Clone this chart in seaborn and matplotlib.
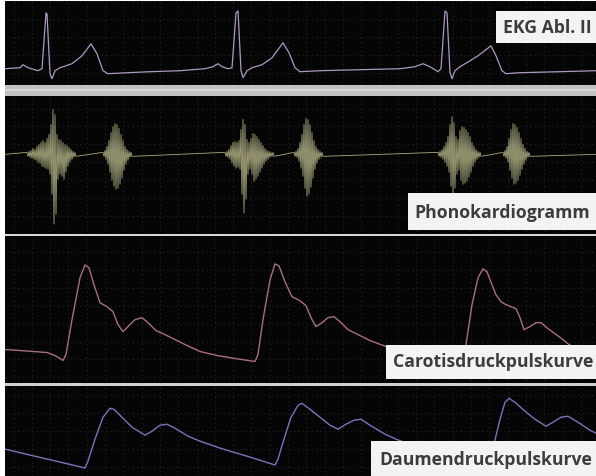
import numpy as np
import pandas as pd
import matplotlib
matplotlib.use("Agg")
import matplotlib.pyplot as plt
import seaborn as sns
from matplotlib.patches import Rectangle

# ---------------- data (x = time in px, y = level in px) -------------
ekg_t = [5, 20, 23, 28, 38, 42, 46, 47, 50, 52, 55, 60, 72, 82, 91, 97, 103, 108, 128, 150,
         180, 205, 213, 218, 222, 228, 232, 236, 238, 241, 243, 247, 252, 262, 272, 283, 289,
         295, 300, 320, 360, 400, 415, 423, 430, 438, 441, 445, 447, 450, 452, 455, 460, 470,
         478, 491, 496, 502, 506, 520, 560, 596]
ekg_v = [68, 67, 64, 67, 70, 68, 12, 13, 73, 78, 70, 67, 63, 55, 43, 53, 70, 73, 72, 71,
         70, 68, 66, 63, 66, 68, 67, 12, 10, 70, 77, 70, 67, 64, 57, 42, 52,
         67, 71, 70, 69, 68, 66, 63, 66, 71, 68, 10, 12, 72, 78, 70, 66, 60,
         55, 45, 55, 70, 73, 72, 71, 70]

# phonocardiogram bursts: x positions, upward and downward excursion
s1a_x = [27, 29, 31, 33, 35, 37, 39, 41, 43, 45, 47, 49, 51, 53, 55, 57, 59, 61, 63, 65, 67, 69, 71, 73, 75]
s1a_up = [2, 3, 4, 6, 5, 8, 10, 12, 14, 12, 16, 20, 30, 45, 40, 20, 15, 14, 12, 10, 9, 7, 5, 3, 2]
s1a_dn = [2, 3, 4, 5, 6, 8, 9, 12, 13, 14, 15, 20, 40, 70, 60, 25, 20, 22, 25, 18, 12, 8, 5, 3, 2]

s2a_x = [103, 105, 107, 109, 111, 113, 115, 117, 119, 121, 123, 125, 127, 129, 131]
s2a_up = [2, 4, 8, 14, 22, 28, 31, 30, 26, 20, 14, 8, 5, 3, 2]
s2a_dn = [2, 5, 10, 18, 26, 32, 35, 34, 30, 24, 16, 10, 6, 3, 2]

s1b_x = [225, 227, 229, 231, 233, 235, 237, 239, 241, 243, 245, 247, 249, 251, 253, 255, 257, 259, 261, 263, 265, 267, 269, 271, 273]
s1b_up = [2, 3, 5, 9, 12, 13, 12, 14, 25, 35, 30, 15, 12, 16, 21, 20, 18, 15, 12, 9, 6, 4, 3, 2, 2]
s1b_dn = [2, 3, 5, 9, 12, 14, 13, 15, 40, 59, 45, 20, 15, 20, 27, 25, 22, 18, 14, 10, 7, 5, 3, 2, 2]

s2b_x = [294, 296, 298, 300, 302, 304, 306, 308, 310, 312, 314, 316, 318, 320, 322]
s2b_up = [2, 3, 6, 12, 20, 30, 36, 35, 30, 22, 14, 8, 5, 3, 2]
s2b_dn = [2, 3, 7, 14, 22, 34, 42, 40, 33, 24, 15, 9, 5, 3, 2]

s1c_x = [438, 440, 442, 444, 446, 448, 450, 452, 454, 456, 458, 460, 462, 464, 466, 468, 470, 472, 474, 476, 478, 480]
s1c_up = [2, 3, 5, 8, 12, 18, 30, 38, 32, 18, 15, 24, 28, 27, 25, 22, 18, 12, 8, 5, 3, 2]
s1c_dn = [2, 3, 5, 8, 12, 18, 32, 40, 34, 20, 16, 26, 30, 29, 27, 23, 18, 12, 8, 5, 3, 2]

s2c_x = [503, 505, 507, 509, 511, 513, 515, 517, 519, 521, 523, 525, 527, 529]
s2c_up = [2, 4, 8, 16, 25, 31, 30, 27, 22, 16, 10, 6, 3, 2]
s2c_dn = [2, 4, 8, 16, 24, 30, 29, 26, 21, 15, 10, 6, 3, 2]

carotid_t = [5, 20, 47, 55, 63, 66, 72, 80, 85, 89, 94, 100, 107, 113, 118, 123, 128, 135, 142, 148,
             156, 165, 173, 185, 200, 217, 235, 255, 258, 263, 270, 275, 279, 285, 292, 300, 306,
             311, 316, 322, 328, 334, 340, 348, 356, 370, 386, 400, 420, 440, 460, 463, 466, 472,
             478, 483, 487, 492, 496, 501, 506, 516, 520, 524, 530, 536, 541, 548, 559, 569, 578, 596]
carotid_v = [350, 351, 353, 356, 361, 355, 320, 278, 265, 268, 285, 303, 307, 312, 325, 332, 327, 320, 318, 323,
             331, 335, 339, 345, 352, 356, 359, 362, 355, 320, 280, 264, 266, 282, 297, 301, 306,
             318, 327, 323, 318, 317, 322, 330, 334, 341, 347, 352, 357, 360, 362, 357, 345, 305,
             278, 269, 272, 285, 295, 302, 305, 309, 318, 330, 327, 323, 323, 329, 337, 345, 350, 356]

thumb_t = [5, 30, 60, 85, 88, 95, 103, 110, 114, 122, 132, 145, 152, 160, 167, 175, 188, 200, 220, 250,
           275, 278, 284, 291, 298, 302, 310, 320, 330, 338, 346, 354, 361, 370, 385, 396, 420, 450,
           480, 490, 494, 500, 505, 509, 515, 525, 535, 546, 553, 561, 568, 578, 590, 596]
thumb_v = [450, 456, 463, 469, 462, 440, 418, 409, 410, 418, 428, 436, 432, 426, 425, 429, 437, 442, 449, 458,
           466, 460, 440, 418, 406, 404, 410, 418, 426, 430, 425, 421, 420, 426, 435, 440, 449, 458,
           465, 467, 445, 420, 403, 399, 403, 412, 420, 427, 423, 418, 417, 423, 431, 434]

labels = ["EKG Abl. II", "Phonokardiogramm", "Carotisdruckpulskurve", "Daumendruckpulskurve"]

# ---------------- styling ----------------
W, H = 596, 477
sns.set_theme(style="white")
plt.rcParams['font.family'] = ['Open Sans', 'DejaVu Sans']

fig = plt.figure(figsize=(W / 100, H / 100), dpi=100, facecolor='white')
ax = fig.add_axes([5 / W, 0, (W - 5) / W, (H - 2) / H])
ax.set_facecolor('#050505')
ax.set_xlim(5, W)
ax.set_ylim(H, 2)

# faint dotted grid
ax.set_xticks(np.arange(13.5, W, 18.3))
ax.set_yticks(np.arange(0.0, H, 18.0))
ax.grid(True, color='#222222', linestyle=(0, (1, 2.5)), linewidth=0.9)
ax.set_axisbelow(True)
ax.tick_params(length=0, labelbottom=False, labelleft=False)
for s in ax.spines.values():
    s.set_visible(False)

# separators
ax.axhspan(84, 95, color='#c2c2c2', zorder=3, lw=0)
ax.axhspan(88.5, 90.5, color='#d6d6d6', zorder=3, lw=0)
ax.axhspan(233.5, 236.2, color='#d6d6d6', zorder=3, lw=0)
ax.axhspan(383.3, 386.3, color='#d0d0d0', zorder=3, lw=0)

# EKG
sns.lineplot(x=ekg_t, y=ekg_v, sort=False, estimator=None, ax=ax,
             color='#ad98c4', lw=0.9, zorder=4)

# phonocardiogram as zig-zag bursts
PHONO_BASE = 154
bursts = [(s1a_x, s1a_up, s1a_dn), (s2a_x, s2a_up, s2a_dn), (s1b_x, s1b_up, s1b_dn),
          (s2b_x, s2b_up, s2b_dn), (s1c_x, s1c_up, s1c_dn), (s2c_x, s2c_up, s2c_dn)]
pt, pv = [5], [0]
for bx, bu, bd in bursts:
    for xi, u, d in zip(bx, bu, bd):
        pt += [xi, xi + 1]
        pv += [u, -d]
pt.append(W)
pv.append(0)
phono = pd.DataFrame({'t': pt, 'y': PHONO_BASE - np.array(pv)})
sns.lineplot(data=phono, x='t', y='y', sort=False, estimator=None, ax=ax,
             color='#aaa97f', lw=0.6, zorder=4)

# pulse curves
sns.lineplot(x=carotid_t, y=carotid_v, sort=False, estimator=None, ax=ax,
             color='#a87078', lw=1.0, zorder=4)
sns.lineplot(x=thumb_t, y=thumb_v, sort=False, estimator=None, ax=ax,
             color='#7676bb', lw=1.0, zorder=4)

ax.set_xlabel('')
ax.set_ylabel('')

# label boxes
boxes = [(496, 10, 100, 32, 503, 26), (408, 193, 188, 37, 414, 212),
         (386, 345, 210, 35, 393, 362), (371, 442, 225, 35, 379, 460)]
for (bx, by, bw, bh, tx, ty), lab in zip(boxes, labels):
    ax.add_patch(Rectangle((bx, by), bw, bh, facecolor='#f3f3f3', edgecolor='none', zorder=6))
    ax.text(tx, ty, lab, ha='left', va='center', fontsize=12.7, fontweight='bold',
            color='#3c3c3c', zorder=7, clip_on=True)

fig.savefig('out.png', dpi=100, facecolor='white')
